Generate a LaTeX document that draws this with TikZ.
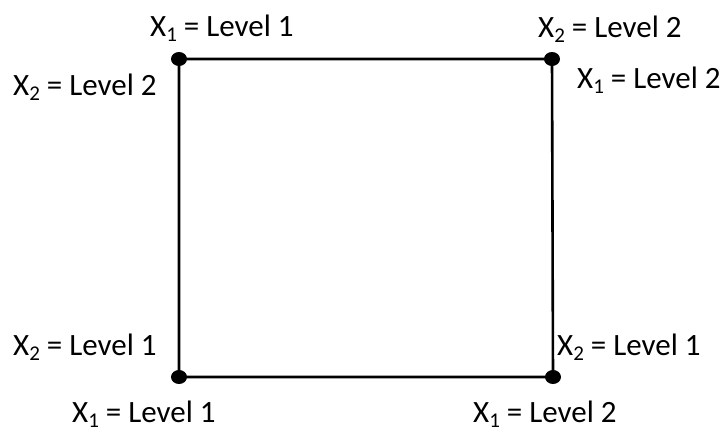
\documentclass[tikz,border=0pt]{standalone}
\usepackage{fontspec}
\setmainfont{Carlito}
\usetikzlibrary{positioning}
\tikzset{
  edge/.style = {draw=black, line width=2.6pt},
  lvl/.style  = {font=\fontsize{31}{33}\selectfont, inner sep=0pt, anchor=base west}
}
\newcommand{\xlev}[2]{X\raisebox{-5pt}{\fontsize{21}{21}\selectfont #1} = Level #2}

\begin{document}
\begin{tikzpicture}[x=1pt, y=-1pt]
  \useasboundingbox (0,0) rectangle (723,432);
  % corners of the square
  \coordinate (tl) at (179,59);
  \coordinate (tr) at (552,59);
  \coordinate (bl) at (179,377);
  \coordinate (br) at (553,377);
  \draw[edge] (tl) -- (tr) -- (br) -- (bl) -- cycle;
  \fill (tl) ellipse (8 and 7);
  \fill (tr) ellipse (8 and 7);
  \fill (bl) ellipse (8 and 7);
  \fill (br) ellipse (8 and 7);
  % level labels
  \node[lvl] (tltop)  at (150,36)  {\xlev{1}{1}};
  \node[lvl] (tlleft) at (13,95)   {\xlev{2}{2}};
  \node[lvl] (trtop)  at (538,37)  {\xlev{2}{2}};
  \node[lvl] (trright) at (577,88) {\xlev{1}{2}};
  \node[lvl] (blleft) at (13,355)  {\xlev{2}{1}};
  \node[lvl] (blbot)  at (72,422)  {\xlev{1}{1}};
  \node[lvl] (brright) at (557,355) {\xlev{2}{1}};
  \node[lvl] (brbot)  at (473,422) {\xlev{1}{2}};
\end{tikzpicture}
\end{document}
